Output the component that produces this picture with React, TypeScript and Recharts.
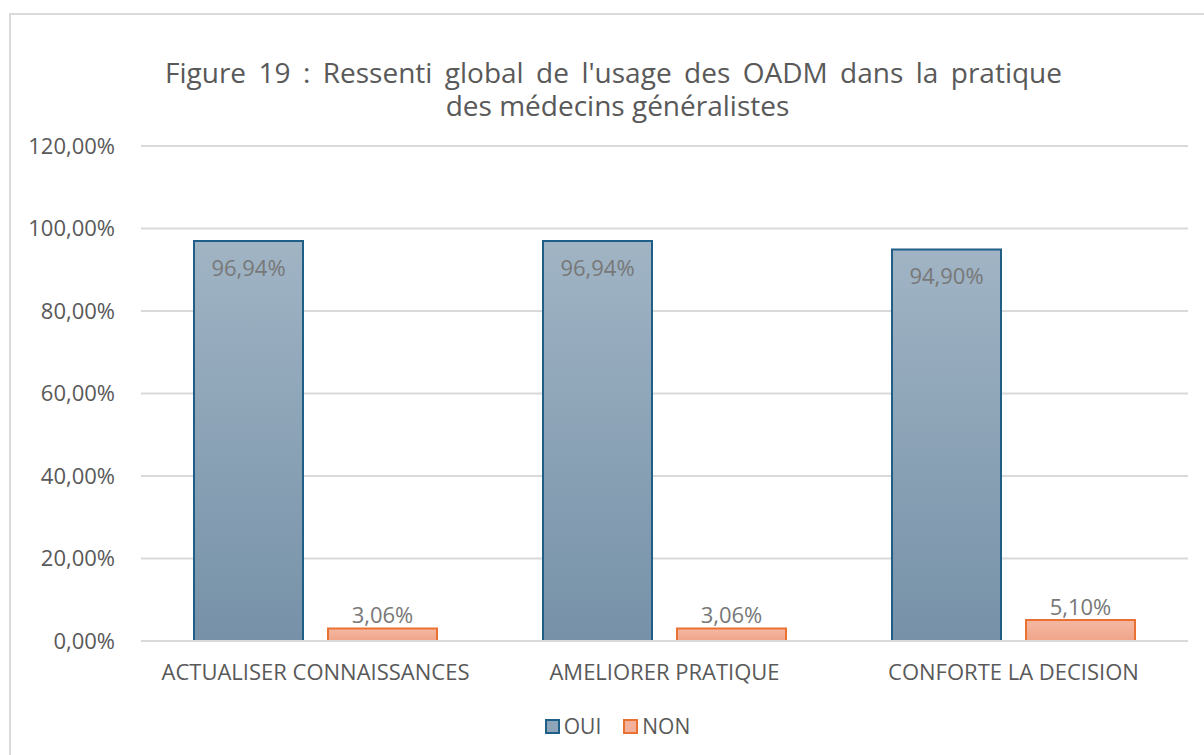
import { BarChart, Bar, XAxis, YAxis, CartesianGrid, Legend, LabelList } from 'recharts';

const categories = ['ACTUALISER CONNAISSANCES', 'AMELIORER PRATIQUE', 'CONFORTE LA DECISION'];
const oui = [96.94, 96.94, 94.9];
const non = [3.06, 3.06, 5.1];
const yTicks = [0, 20, 40, 60, 80, 100, 120];

const data = categories.map((name, i) => ({ name, OUI: oui[i], NON: non[i] }));

const FONT = '"Open Sans", sans-serif';
const fmt = (v: number) => `${Number(v).toFixed(2).replace('.', ',')}%`;

const legendStyles: Record<string, { fill: string; stroke: string }> = {
  OUI: { fill: '#8ea4b8', stroke: '#1f5f87' },
  NON: { fill: '#f3b09a', stroke: '#e97132' },
};

function LegendContent() {
  return (
    <div style={{ display: 'flex', justifyContent: 'center', gap: 22, paddingLeft: 31, fontFamily: FONT, fontSize: 21, color: '#595959' }}>
      {['OUI', 'NON'].map((k) => (
        <div key={k} style={{ display: 'flex', alignItems: 'center', gap: 4 }}>
          <span
            style={{
              display: 'inline-block',
              width: 11,
              height: 11,
              background: legendStyles[k].fill,
              border: `2px solid ${legendStyles[k].stroke}`,
            }}
          />
          <span>{k}</span>
        </div>
      ))}
    </div>
  );
}

export default function App() {
  return (
    <div style={{ position: 'absolute', left: 0, top: 0, width: 1204, height: 755, overflow: 'hidden', background: '#fff' }}>
      <div
        style={{
          position: 'absolute',
          left: 9,
          top: 13,
          width: 1230,
          height: 780,
          border: '2px solid #d9d9d9',
          boxSizing: 'border-box',
        }}
      />
      <div style={{ position: 'absolute', left: 165, top: 56, width: 897, fontFamily: FONT, fontSize: 28, lineHeight: '33px', color: '#595959' }}>
        <div style={{ textAlign: 'justify', textAlignLast: 'justify', whiteSpace: 'nowrap' }}>
          Figure 19 : Ressenti global de l'usage des OADM dans la pratique
        </div>
        <div style={{ textAlign: 'center', marginLeft: 8 }}>des médecins généralistes</div>
      </div>
      <div style={{ position: 'absolute', left: 0, top: 0 }}>
        <BarChart
          width={1204}
          height={755}
          data={data}
          margin={{ top: 146, right: 16, left: 0, bottom: 74 }}
          barSize={109}
          barGap={25}
        >
          <defs>
            <linearGradient id="ouiGrad" x1="0" y1="0" x2="0" y2="1">
              <stop offset="0%" stopColor="#a0b4c4" />
              <stop offset="100%" stopColor="#7691a8" />
            </linearGradient>
            <linearGradient id="nonGrad" x1="0" y1="0" x2="0" y2="1">
              <stop offset="0%" stopColor="#f5b8a2" />
              <stop offset="100%" stopColor="#f0a589" />
            </linearGradient>
          </defs>
          <CartesianGrid vertical={false} stroke="#d9d9d9" strokeWidth={2} />
          <XAxis
            dataKey="name"
            height={40}
            tickLine={false}
            tickSize={0}
            tickMargin={23}
            axisLine={{ stroke: '#d9d9d9', strokeWidth: 2 }}
            tick={{ fill: '#595959', fontSize: 22, fontFamily: FONT }}
          />
          <YAxis
            width={141}
            domain={[0, 120]}
            ticks={yTicks}
            tickFormatter={fmt}
            axisLine={false}
            tickLine={false}
            tickSize={0}
            tickMargin={26}
            tick={{ fill: '#595959', fontSize: 22, fontFamily: FONT }}
          />
          <Legend layout="horizontal" verticalAlign="middle" align="center" wrapperStyle={{ top: 712, left: 0, width: 1204 }} content={<LegendContent />} />
          <Bar dataKey="OUI" fill="url(#ouiGrad)" stroke="#1f5f87" strokeWidth={2} isAnimationActive={false}>
            <LabelList dataKey="OUI" position="insideTop" offset={19} formatter={(v: unknown) => fmt(Number(v))} fill="#787878" fontSize={22} fontFamily={FONT} />
          </Bar>
          <Bar dataKey="NON" fill="url(#nonGrad)" stroke="#e97132" strokeWidth={2} isAnimationActive={false}>
            <LabelList dataKey="NON" position="top" offset={5} formatter={(v: unknown) => fmt(Number(v))} fill="#787878" fontSize={22} fontFamily={FONT} />
          </Bar>
        </BarChart>
      </div>
    </div>
  );
}
